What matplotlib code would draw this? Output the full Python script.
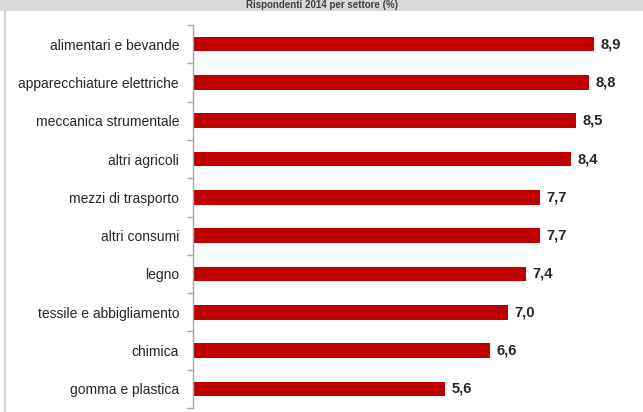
import matplotlib.pyplot as plt
from matplotlib.patches import Rectangle
from matplotlib.lines import Line2D

# DATA ############################################################

sectors = [
    "alimentari e bevande",
    "apparecchiature elettriche",
    "meccanica strumentale",
    "altri agricoli",
    "mezzi di trasporto",
    "altri consumi",
    "legno",
    "tessile e abbigliamento",
    "chimica",
    "gomma e plastica",
]
values = [8.9, 8.8, 8.5, 8.4, 7.7, 7.7, 7.4, 7.0, 6.6, 5.6]
value_labels = [f"{v:.1f}".replace(".", ",") for v in values]

title = "Rispondenti 2014 per settore (%)"

# FIGURE ##########################################################

W, H = 643, 412
fig = plt.figure(figsize=(W / 100, H / 100), dpi=100)
plt.rcParams["font.family"] = ["Liberation Sans", "DejaVu Sans"]

# title band at the top
band = 11
fig.patches.append(Rectangle((0, 1 - band / H), 1, band / H, transform=fig.transFigure,
                             facecolor="#d9d9d9", edgecolor="none", zorder=0))
fig.lines.append(Line2D([5 / W, 5 / W], [0, 1 - band / H], transform=fig.transFigure,
                        color="#d4d4d4", linewidth=1.5))
fig.text(0.5, 1 - band / 2 / H, title, ha="center", va="center", fontsize=7,
         fontweight="bold", color="#404040")

ax = fig.add_axes([193 / W, 4 / H, 450 / W, 383 / H])

pos = list(range(len(sectors)))
ax.barh(pos, values, height=0.38, color="#c00000")

for p, v, lab in zip(pos, values, value_labels):
    ax.text(v + 0.15, p, lab, va="center", ha="left", fontsize=10.5,
            fontweight="bold", color="#262626")

ax.set_xlim(0, 10)
ax.set_ylim(len(sectors) - 0.5, -0.5)
ax.set_yticks(pos)
ax.set_yticklabels(sectors, fontsize=10, color="#262626")
ax.set_yticks([p + 0.5 for p in range(-1, len(sectors))], minor=True)
ax.tick_params(axis="y", which="major", length=0, pad=10)
ax.tick_params(axis="y", which="minor", length=4, color="#a6a6a6", width=1)
ax.set_xticks([])

for side in ["top", "right", "bottom"]:
    ax.spines[side].set_visible(False)
ax.spines["left"].set_color("#a6a6a6")
ax.spines["left"].set_linewidth(1)

fig.savefig("out.png", dpi=100)
